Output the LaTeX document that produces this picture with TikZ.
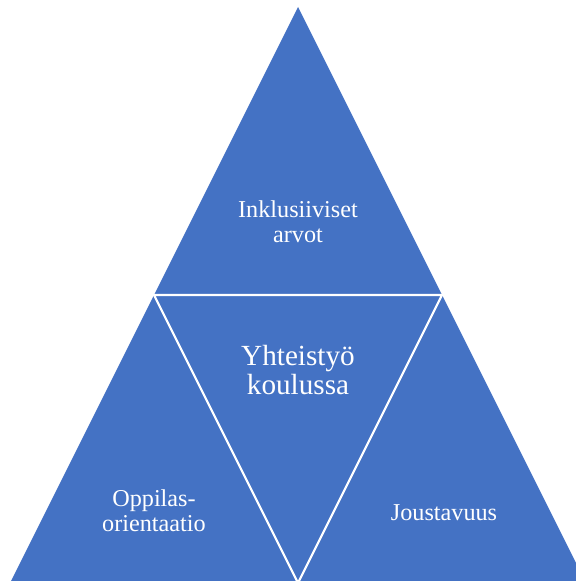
\documentclass[tikz,border=0pt]{standalone}
\usepackage{xcolor}
\usepackage{fontspec}
\setmainfont{Liberation Serif}
\usepackage{tikz}
\usetikzlibrary{math}
\definecolor{triblue}{HTML}{4472C4}

\begin{document}
\begin{tikzpicture}[x=1bp,y=-1bp,
	lbl/.style={text=white,align=center,inner sep=0pt,font=\fontsize{24.3}{25.5}\selectfont},
	midlbl/.style={lbl,font=\fontsize{29.3}{29}\selectfont}]
\useasboundingbox (0,0) rectangle (576,581);
\clip (0,0) rectangle (576,581);
\tikzmath{
	\cx = 298;\ty = 7;
	\h = 576;\w = \h/2;
	{\coordinate (top) at (\cx,\ty);};
	{\coordinate (ml) at ({\cx-\w/2},{\ty+\h/2});};
	{\coordinate (mr) at ({\cx+\w/2},{\ty+\h/2});};
	{\coordinate (bl) at ({\cx-\w},{\ty+\h});};
	{\coordinate (bm) at (\cx,{\ty+\h});};
	{\coordinate (br) at ({\cx+\w},{\ty+\h});};
	{\fill[triblue] plot[] coordinates {(top) (br) (bl)} -- cycle;};
	{\draw[white,line width=2.2bp] plot[] coordinates {(ml) (mr) (bm)} -- cycle;};
	%
	{\node[lbl] (arvot) at (\cx,222) {Inklusiiviset\\arvot};};
	{\node[midlbl] (yht) at (\cx,370) {Yhteistyö\\koulussa};};
	{\node[lbl] (oppi) at (154,511) {Oppilas-\\orientaatio};};
	{\node[lbl] (jous) at (444,513) {Joustavuus};};
};
\end{tikzpicture}
\end{document}
